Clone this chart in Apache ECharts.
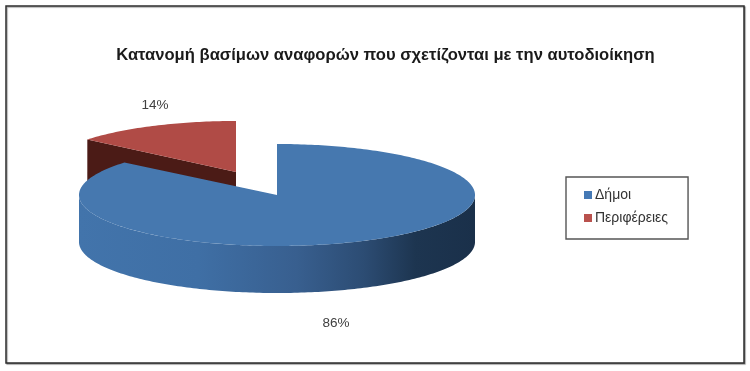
<!DOCTYPE html>
<html><head><meta charset="utf-8">
<style>html,body{margin:0;padding:0;background:#fff}#c{width:750px;height:371px}</style>
<script src="https://cdn.jsdelivr.net/npm/echarts@6/dist/echarts.min.js"></script>
</head><body><div id="c"></div>
<script>
const categories = ['Δήμοι', 'Περιφέρειες'];
const shares = [86, 14];
const titleText = 'Κατανομή βασίμων αναφορών που σχετίζονται με την αυτοδιοίκηση';

const total = shares[0] + shares[1];
const RX = 198, RY = 51, DEPTH = 47;
const FONT = '"Liberation Sans", Arial, sans-serif';

function pt(cx, cy, deg, rx, dy) {
  const a = deg * Math.PI / 180;
  return [cx + rx * Math.sin(a), cy - RY * Math.cos(a) + (dy || 0)];
}
function arc(cx, cy, from, to, rx, dy) {
  const out = [], n = Math.max(2, Math.ceil(Math.abs(to - from)));
  for (let i = 0; i <= n; i++) out.push(pt(cx, cy, from + (to - from) * i / n, rx, dy));
  return out;
}
function poly(points, fill) {
  return { type: 'polygon', shape: { points }, style: { fill, stroke: null }, silent: true };
}
function label(text, x, y) {
  return { type: 'text', silent: true, style: { text, x, y, align: 'center', verticalAlign: 'middle', fill: '#404040', font: '13.5px ' + FONT } };
}

// Δήμοι: starts at 12 o'clock, runs clockwise
function renderBlue(params, api) {
  const cx = 277, cy = 195;
  const sweep = api.value(0) / total * 360;
  const top = [[cx, cy]].concat(arc(cx, cy, 0, sweep, RX));
  const wall = arc(cx, cy, 90, 270, RX).concat(arc(cx, cy, 270, 90, RX, DEPTH));
  const grad = new echarts.graphic.LinearGradient(0, 0, 1, 0, [
    { offset: 0, color: '#4274ab' }, { offset: 0.3, color: '#3f6fa5' },
    { offset: 0.55, color: '#385f8f' }, { offset: 0.72, color: '#2c4c73' },
    { offset: 0.85, color: '#1d3550' }, { offset: 1, color: '#1a304a' }
  ]);
  return { type: 'group', children: [
    poly(wall, grad), poly(top, '#4678af'),
    label(api.value(0) + '%', 336, 323)
  ]};
}
// Περιφέρειες: exploded up and left, ends at 12 o'clock
function renderRed(params, api) {
  const cx = 236, cy = 172, rx = 193;
  const sweep = api.value(0) / total * 360;
  const top = [[cx, cy]].concat(arc(cx, cy, 360 - sweep, 360, rx));
  const c = pt(cx, cy, 360 - sweep, rx);
  const wall = [[c[0], c[1]], [cx, cy], [cx, cy + DEPTH], [c[0], c[1] + DEPTH]];
  return { type: 'group', children: [
    poly(wall, '#4b1b16'), poly(top, '#b04b46'),
    label(api.value(0) + '%', 155, 105)
  ]};
}

const chart = echarts.init(document.getElementById('c'), null, { renderer: 'canvas' });
chart.setOption({
  animation: false,
  backgroundColor: '#ffffff',
  title: {
    text: titleText, left: 380.5, top: 42, textAlign: 'center',
    textStyle: { fontFamily: FONT, fontSize: 16.6, fontWeight: 'bold', color: '#1a1a1a' }
  },
  legend: {
    orient: 'vertical', left: 566, top: 177,
    data: [{ name: categories[0], icon: 'rect' }, { name: categories[1], icon: 'rect' }],
    itemWidth: 8, itemHeight: 8, itemGap: 9, padding: [11, 20, 14, 18],
    borderColor: '#555555', borderWidth: 1.4, backgroundColor: '#fff',
    selectedMode: false,
    textStyle: { fontFamily: FONT, fontSize: 14, color: '#333', padding: [0, 0, 0, -2] }
  },
  graphic: [{
    type: 'rect', silent: true, z: -1,
    shape: { x: 6, y: 6, width: 738, height: 357 },
    style: { fill: '#fff', stroke: '#2e2e2e', lineWidth: 1.5, shadowColor: 'rgba(0,0,0,0.35)', shadowOffsetX: 1, shadowOffsetY: 1, shadowBlur: 1 }
  }],
  series: [
    { type: 'custom', name: categories[1], coordinateSystem: 'none', data: [[shares[1]]], renderItem: renderRed, itemStyle: { color: '#b9514d' }, z: 2 },
    { type: 'custom', name: categories[0], coordinateSystem: 'none', data: [[shares[0]]], renderItem: renderBlue, itemStyle: { color: '#4579b5' }, z: 3 }
  ]
});
</script></body></html>
